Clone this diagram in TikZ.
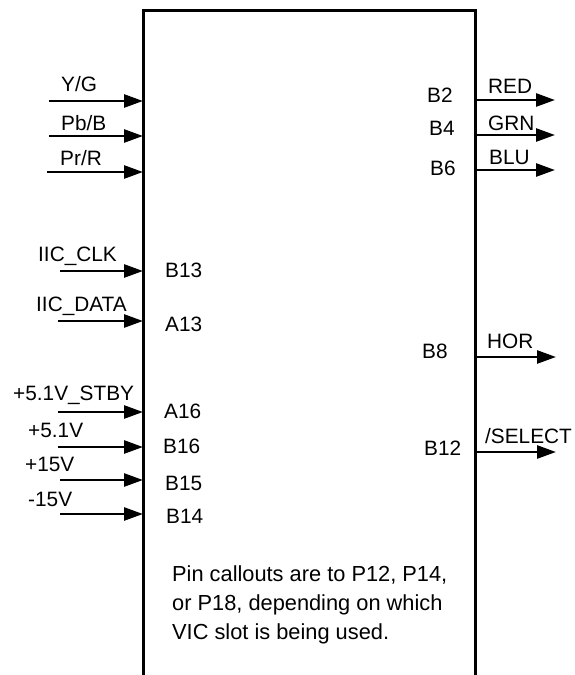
\documentclass[tikz,border=0pt]{standalone}
\usepackage{fontspec}
\setmainfont{Liberation Sans}
\usetikzlibrary{arrows.meta}
\begin{document}
\begin{tikzpicture}[x=1pt,y=-1pt,
    pin/.style={line width=2.6pt,-{Triangle[length=19pt,width=13pt]}},
    lbl/.style={anchor=base west,inner sep=0pt,font=\fontsize{20.8}{25}\selectfont}]
    \useasboundingbox (0,0) rectangle (574,675);

    % the board, open at the bottom
    \coordinate (boxbl) at (143,675);
    \coordinate (boxtl) at (143,10);
    \coordinate (boxtr) at (475,10);
    \coordinate (boxbr) at (475,675);
    \draw[line width=3pt] (boxbl) -- (boxtl) -- (boxtr) -- (boxbr);

    % video inputs
    \coordinate (yg) at (49,101);
    \coordinate (pbb) at (49,136);
    \coordinate (prr) at (47,172);
    \draw[pin] (yg) -- (yg -| boxtl);
    \draw[pin] (pbb) -- (pbb -| boxtl);
    \draw[pin] (prr) -- (prr -| boxtl);
    \node[lbl] (ygtxt) at (61,91) {Y/G};
    \node[lbl] (pbbtxt) at (61,130) {Pb/B};
    \node[lbl] (prrtxt) at (60,165) {Pr/R};

    % IIC bus
    \coordinate (iicclk) at (60,271);
    \coordinate (iicdata) at (58,321);
    \draw[pin] (iicclk) -- (iicclk -| boxtl);
    \draw[pin] (iicdata) -- (iicdata -| boxtl);
    \node[lbl] (iicclktxt) at (38,261) {IIC\_CLK};
    \node[lbl] (iicdatatxt) at (36,311) {IIC\_DATA};
    \node[lbl] (b13) at (165,277) {B13};
    \node[lbl] (a13) at (165,331) {A13};

    % supplies
    \coordinate (stby) at (58,412);
    \coordinate (fivev) at (58,447);
    \coordinate (pfifteen) at (60,480);
    \coordinate (mfifteen) at (60,514);
    \draw[pin] (stby) -- (stby -| boxtl);
    \draw[pin] (fivev) -- (fivev -| boxtl);
    \draw[pin] (pfifteen) -- (pfifteen -| boxtl);
    \draw[pin] (mfifteen) -- (mfifteen -| boxtl);
    \node[lbl] (stbytxt) at (13,400) {+5.1V\_STBY};
    \node[lbl] (fivevtxt) at (28,437) {+5.1V};
    \node[lbl] (pfifteentxt) at (25,471) {+15V};
    \node[lbl] (mfifteentxt) at (28,506) {-15V};
    \node[lbl] (a16) at (164,418) {A16};
    \node[lbl] (b16) at (163,453) {B16};
    \node[lbl] (b15) at (165,490) {B15};
    \node[lbl] (b14) at (166,523) {B14};

    % outputs
    \coordinate (red) at (555,100);
    \coordinate (grn) at (555,135);
    \coordinate (blu) at (555,170);
    \coordinate (hor) at (556,357);
    \coordinate (sel) at (556,452);
    \draw[pin] (red -| boxtr) -- (red);
    \draw[pin] (grn -| boxtr) -- (grn);
    \draw[pin] (blu -| boxtr) -- (blu);
    \draw[pin] (hor -| boxtr) -- (hor);
    \draw[pin] (sel -| boxtr) -- (sel);
    \node[lbl] (redtxt) at (488,93) {RED};
    \node[lbl] (grntxt) at (488,130) {GRN};
    \node[lbl] (blutxt) at (489,164) {BLU};
    \node[lbl] (hortxt) at (487,348) {HOR};
    \node[lbl] (seltxt) at (485,443) {/SELECT};
    \node[lbl] (b2) at (427,102) {B2};
    \node[lbl] (b4) at (429,135) {B4};
    \node[lbl] (b6) at (430,175) {B6};
    \node[lbl] (b8) at (422,358) {B8};
    \node[lbl] (b12) at (424,455) {B12};

    % note
    \node[anchor=north west,inner sep=0pt,align=left,
      font=\fontsize{21.8}{29}\selectfont] (note) at (172,565)
      {Pin callouts are to P12, P14,\\or P18, depending on which\\VIC slot is being used.};
\end{tikzpicture}
\end{document}
